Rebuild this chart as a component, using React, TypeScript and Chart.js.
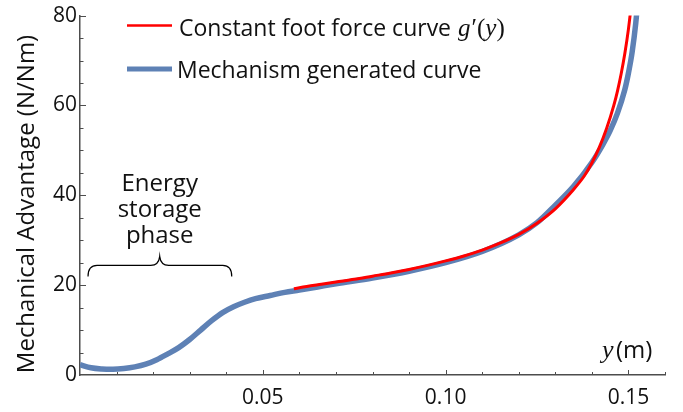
import { useEffect, useRef } from 'react';
import { Chart, registerables } from 'chart.js';

Chart.register(...registerables);

// ---- data ----
const mechX = [0, 0.003, 0.006, 0.009, 0.012, 0.015, 0.018, 0.021, 0.024, 0.027, 0.030, 0.033, 0.036, 0.039, 0.042, 0.045, 0.048, 0.052, 0.056, 0.060, 0.065, 0.070, 0.080, 0.090, 0.100, 0.110, 0.120, 0.125, 0.130, 0.135, 0.140, 0.143, 0.145, 0.147, 0.149, 0.150, 0.151, 0.152, 0.1525];
const mechY = [2.3, 1.6, 1.35, 1.3, 1.45, 1.8, 2.4, 3.4, 4.7, 6.1, 7.9, 10.0, 12.1, 13.9, 15.2, 16.2, 17.0, 17.7, 18.4, 18.9, 19.6, 20.3, 21.6, 23.1, 25.0, 27.5, 31.2, 33.9, 37.8, 42.0, 47.3, 51.3, 54.4, 58.3, 63.5, 67.2, 71.8, 78.3, 82.8];

const footX = [0.0585, 0.062, 0.066, 0.070, 0.075, 0.080, 0.085, 0.090, 0.095, 0.100, 0.105, 0.110, 0.115, 0.120, 0.125, 0.130, 0.135, 0.138, 0.140, 0.142, 0.144, 0.146, 0.147, 0.148, 0.149, 0.150, 0.1508];
const footY = [19.2, 19.7, 20.2, 20.7, 21.3, 22.0, 22.7, 23.5, 24.4, 25.4, 26.5, 27.8, 29.4, 31.3, 33.8, 37.0, 41.3, 44.4, 47.2, 50.6, 54.8, 60.0, 63.2, 67.0, 71.5, 77.0, 82.5];

const xTickValues = [0.05, 0.1, 0.15];
const yTickValues = [0, 20, 40, 60, 80];
const xMinorTicks = [0.01, 0.02, 0.03, 0.04, 0.05, 0.06, 0.07, 0.08, 0.09, 0.10, 0.11, 0.12, 0.13, 0.14, 0.15, 0.16];
const yMinorTicks = [5, 10, 15, 20, 25, 30, 35, 40, 45, 50, 55, 60, 65, 70, 75, 80];

const seriesLabels = ['Constant foot force curve', 'Mechanism generated curve'];
const yAxisTitle = 'Mechanical Advantage (N/Nm)';
const annotationLines = ['Energy', 'storage', 'phase'];

const RED = '#ff0000';
const BLUE = 'rgb(94,129,181)';
const AXIS = '#4d4d4d';
const TEXT = '#111111';
const FONT = '"Open Sans", "Noto Sans", sans-serif';
const SERIF = '"Liberation Serif", "DejaVu Serif", serif';

const decor = {
  id: 'decor',
  afterDraw(chart: any) {
    const { ctx, chartArea } = chart;
    const xs = chart.scales.x;
    const ys = chart.scales.y;
    ctx.save();

    // inward tick marks
    ctx.strokeStyle = AXIS;
    ctx.lineWidth = 1;
    xMinorTicks.forEach((v) => {
      const major = xTickValues.some((t) => Math.abs(t - v) < 1e-9);
      const px = Math.round(xs.getPixelForValue(v)) + 0.5;
      ctx.beginPath();
      ctx.moveTo(px, chartArea.bottom);
      ctx.lineTo(px, chartArea.bottom - (major ? 5 : 3));
      ctx.stroke();
    });
    yMinorTicks.forEach((v) => {
      const major = yTickValues.includes(v);
      const py = Math.round(ys.getPixelForValue(v)) + 0.5;
      ctx.beginPath();
      ctx.moveTo(chartArea.left, py);
      ctx.lineTo(chartArea.left + (major ? 6 : 3.5), py);
      ctx.stroke();
    });

    // y axis title
    ctx.save();
    ctx.translate(34, 204);
    ctx.rotate(-Math.PI / 2);
    ctx.font = `24px ${FONT}`;
    ctx.fillStyle = TEXT;
    ctx.textAlign = 'center';
    ctx.textBaseline = 'alphabetic';
    ctx.fillText(yAxisTitle, 0, 0);
    ctx.restore();

    // x axis label  y (m)
    ctx.fillStyle = TEXT;
    ctx.textAlign = 'left';
    ctx.textBaseline = 'alphabetic';
    ctx.font = `italic 26px ${SERIF}`;
    ctx.fillText('y', 602, 358);
    ctx.font = `24px ${FONT}`;
    ctx.fillText('(m)', 616, 358);

    // legend
    ctx.lineCap = 'butt';
    ctx.strokeStyle = RED;
    ctx.lineWidth = 2.5;
    ctx.beginPath();
    ctx.moveTo(127, 25.5);
    ctx.lineTo(172, 25.5);
    ctx.stroke();
    ctx.strokeStyle = BLUE;
    ctx.lineWidth = 5;
    ctx.beginPath();
    ctx.moveTo(127, 69);
    ctx.lineTo(172, 69);
    ctx.stroke();

    ctx.font = `23px ${FONT}`;
    ctx.fillStyle = TEXT;
    ctx.fillText(seriesLabels[0], 179, 36);
    let gx = 179 + ctx.measureText(seriesLabels[0]).width + 7;
    const parts: [string, boolean][] = [['g', true], ['\u2032', false], ['(', false], ['y', true], [')', false]];
    parts.forEach(([t, it]) => {
      ctx.font = `${it ? 'italic ' : ''}25px ${SERIF}`;
      ctx.fillText(t, gx, 36);
      gx += ctx.measureText(t).width + (t === 'g' ? 1 : 0);
    });
    ctx.font = `23px ${FONT}`;
    ctx.fillText(seriesLabels[1], 177, 78);

    // annotation text
    const cx = xs.getPixelForValue(0.0218);
    ctx.font = `24px ${FONT}`;
    ctx.textAlign = 'center';
    ctx.fillText(annotationLines[0], cx, 190.5);
    ctx.fillText(annotationLines[1], cx, 216.5);
    ctx.fillText(annotationLines[2], cx, 242.5);

    // brace
    const x1 = xs.getPixelForValue(0.0022);
    const x2 = xs.getPixelForValue(0.0415);
    const yb = ys.getPixelForValue(24.4);
    ctx.strokeStyle = '#000';
    ctx.lineWidth = 1.2;
    ctx.beginPath();
    ctx.moveTo(x1, yb + 11);
    ctx.quadraticCurveTo(x1, yb, x1 + 9, yb);
    ctx.lineTo(cx - 9, yb);
    ctx.quadraticCurveTo(cx - 1, yb, cx, yb - 9);
    ctx.quadraticCurveTo(cx + 1, yb, cx + 9, yb);
    ctx.lineTo(x2 - 9, yb);
    ctx.quadraticCurveTo(x2, yb, x2, yb + 11);
    ctx.stroke();

    ctx.restore();
  },
};

export default function App() {
  const ref = useRef<HTMLCanvasElement>(null);
  useEffect(() => {
    const canvas = ref.current!;
    const chart = new Chart(canvas, {
      type: 'line',
      data: {
        datasets: [
          {
            label: seriesLabels[0],
            data: footX.map((x, i) => ({ x, y: footY[i] })),
            borderColor: RED,
            borderWidth: 3,
            pointRadius: 0,
            cubicInterpolationMode: 'monotone',
            clip: 0,
            order: 0,
          },
          {
            label: seriesLabels[1],
            data: mechX.map((x, i) => ({ x, y: mechY[i] })),
            borderColor: BLUE,
            borderWidth: 5.5,
            pointRadius: 0,
            cubicInterpolationMode: 'monotone',
            clip: 0,
            order: 1,
          },
        ],
      } as any,
      options: {
        animation: false,
        responsive: false,
        devicePixelRatio: 1,
        layout: { padding: { top: 14, right: 18, left: 0, bottom: 0 } },
        plugins: { legend: { display: false }, tooltip: { enabled: false } },
        scales: {
          x: {
            type: 'linear',
            min: 0,
            max: 0.16,
            afterBuildTicks: (s: any) => {
              s.ticks = xTickValues.map((v) => ({ value: v }));
            },
            afterFit: (s: any) => {
              s.height = 37;
            },
            grid: { display: false, drawTicks: false },
            border: { display: true, color: AXIS, width: 1.5 },
            ticks: {
              padding: 10,
              color: TEXT,
              maxRotation: 0,
              autoSkip: false,
              font: { family: FONT, size: 21 },
              callback: (v: any) => Number(v).toFixed(2),
            },
          },
          y: {
            type: 'linear',
            min: 0,
            max: 80,
            afterBuildTicks: (s: any) => {
              s.ticks = yTickValues.map((v) => ({ value: v }));
            },
            afterFit: (s: any) => {
              s.width = 80;
            },
            grid: { display: false, drawTicks: false },
            border: { display: true, color: AXIS, width: 1.5 },
            ticks: {
              padding: 3,
              color: TEXT,
              autoSkip: false,
              font: { family: FONT, size: 21 },
              callback: (v: any) => String(v),
            },
          },
        },
      } as any,
      plugins: [decor],
    });
    return () => chart.destroy();
  }, []);

  return (
    <div style={{ position: 'fixed', left: 0, top: 0, width: 683, height: 412, background: '#fff' }}>
      <canvas ref={ref} width={683} height={412} style={{ display: 'block', width: 683, height: 412 }} />
    </div>
  );
}
